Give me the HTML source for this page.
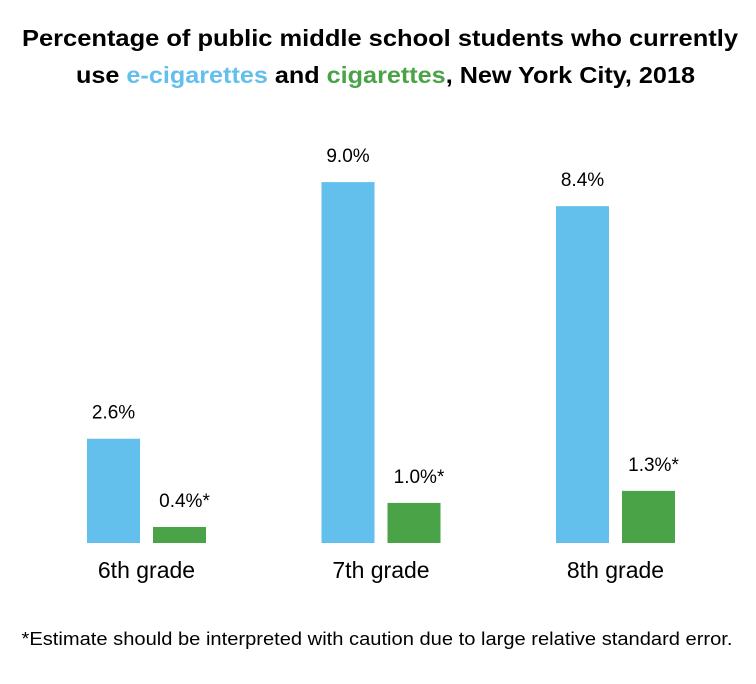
<!DOCTYPE html>
<html><head><meta charset="utf-8"><style>
body{margin:0;background:#fff;font-family:"Liberation Sans",sans-serif;}
#wrap{position:relative;width:756px;height:684px;overflow:hidden;}
</style></head><body>
<div id="wrap">
<svg id="svg" width="756" height="684" xmlns="http://www.w3.org/2000/svg">
<text x="380" y="46" text-anchor="middle" font-size="23" font-weight="bold" fill="#000" textLength="716" lengthAdjust="spacingAndGlyphs">Percentage of public middle school students who currently</text>
<text x="385.5" y="83" text-anchor="middle" font-size="23" font-weight="bold" fill="#000" textLength="619" lengthAdjust="spacingAndGlyphs">use <tspan fill="#63c0ec">e-cigarettes</tspan> and <tspan fill="#4aa346">cigarettes</tspan>, New York City, 2018</text>
<g id="bars"></g>
<text x="377" y="645" text-anchor="middle" font-size="18" fill="#000" textLength="711" lengthAdjust="spacingAndGlyphs">*Estimate should be interpreted with caution due to large relative standard error.</text>
</svg>
</div>
<script>
const categories = ["6th grade","7th grade","8th grade"];
const ecigValues = [2.6, 9.0, 8.4];
const cigValues = [0.4, 1.0, 1.3];
const ecigLabels = ["2.6%","9.0%","8.4%"];
const cigLabels = ["0.4%*","1.0%*","1.3%*"];

const baseY = 543, pxPerUnit = 40.1;
const groupStart = 87, groupStep = 234.5, barW = 53, gap = 13;
function y(v){return baseY - v*pxPerUnit;}
function gx(i){return groupStart + i*groupStep;}
const NS = "http://www.w3.org/2000/svg";
const g = document.getElementById('bars');
function mk(tag, attrs){const e=document.createElementNS(NS,tag);for(const k in attrs)e.setAttribute(k,attrs[k]);return e;}
categories.forEach((c,i)=>{
  const x1 = gx(i), x2 = x1 + barW + gap;
  const b1 = mk('rect',{x:x1,y:y(ecigValues[i]),width:barW,height:baseY-y(ecigValues[i]),fill:'#63c0ec'});
  
  
  g.appendChild(b1);
  const b2 = mk('rect',{x:x2,y:y(cigValues[i]),width:barW,height:baseY-y(cigValues[i]),fill:'#4aa346'});
  
  
  g.appendChild(b2);
  const t1 = mk('text',{x:x1+barW/2,y:y(ecigValues[i])-20,'text-anchor':'middle','font-size':'19',fill:'#000'});
  t1.textContent = ecigLabels[i];
  
  
  g.appendChild(t1);
  const t2 = mk('text',{x:x2+barW/2+5,y:y(cigValues[i])-20,'text-anchor':'middle','font-size':'19',fill:'#000'});
  t2.textContent = cigLabels[i];
  
  
  g.appendChild(t2);
  const t3 = mk('text',{x:x1+barW+gap/2,y:578,'text-anchor':'middle','font-size':'23',fill:'#000'});
  t3.textContent = c;
  
  
  g.appendChild(t3);
});
</script>
</body></html>
